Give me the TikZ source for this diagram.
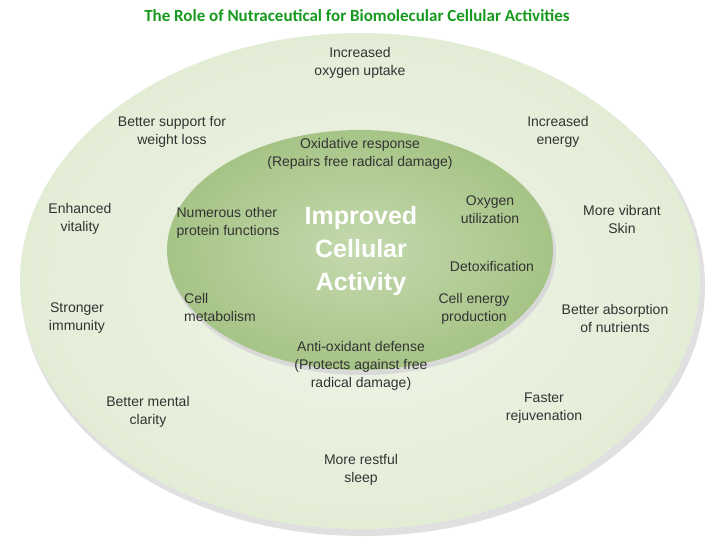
\documentclass[tikz,border=0pt]{standalone}
\usepackage{fontspec}
\setmainfont{Liberation Sans}
\newfontfamily\titlefont{Carlito}
\begin{document}
\begin{tikzpicture}[x=1pt,y=-1pt,
  lbl/.style={align=center,text=black!80,font=\fontsize{14}{18}\selectfont,inner sep=0pt},
  lbll/.style={lbl,align=left}]
\definecolor{outerg}{HTML}{E3EDD6}
\definecolor{innerg}{HTML}{A6C486}
\definecolor{innerc}{HTML}{C4D9AE}
\definecolor{titleg}{HTML}{169A1E}
\useasboundingbox (0,0) rectangle (720,540);
\fill[white] (0,0) rectangle (720,540);
\fill[black!12] (363,286) ellipse [x radius=342,y radius=250];
\shade[inner color=outerg!55!white,outer color=outerg] (360,281) ellipse [x radius=340,y radius=248] node (outer) {};
\fill[black!15] (362,254) ellipse [x radius=194,y radius=121];
\shade[inner color=innerc,outer color=innerg] (360,250) ellipse [x radius=193,y radius=120] node (inner) {};
\node[text=titleg,font=\titlefont\bfseries\fontsize{17}{18}\selectfont] (title) at (357,16) {The Role of Nutraceutical for Biomolecular Cellular Activities};
\node[white,font=\bfseries\fontsize{25}{33}\selectfont,align=center] (ica) at (361,251) {Improved\\Cellular\\Activity};
\node[lbl] (a) at (360,63) {Increased\\oxygen uptake};
\node[lbl] (b) at (172,132) {Better support for\\weight loss};
\node[lbl] (c) at (558,132) {Increased\\energy};
\node[lbl] (d) at (80,219) {Enhanced\\vitality};
\node[lbl] (e) at (622,219) {More vibrant\\Skin};
\node[lbl] (f) at (77,318) {Stronger\\immunity};
\node[lbl] (g) at (615,318) {Better absorption\\of nutrients};
\node[lbl] (h) at (148,412) {Better mental\\clarity};
\node[lbl] (i) at (544,408) {Faster\\rejuvenation};
\node[lbl] (j) at (361,470) {More restful\\sleep};
\node[lbl] (k) at (360,154) {Oxidative response\\(Repairs free radical damage)};
\node[lbll] (l) at (228,223) {Numerous other\\protein functions};
\node[lbl] (m) at (490,210) {Oxygen\\utilization};
\node[lbl] (n) at (492,266) {Detoxification};
\node[lbll] (o) at (220,307) {Cell\\metabolism};
\node[lbl] (p) at (474,309) {Cell energy\\production};
\node[lbl] (q) at (361,366) {Anti-oxidant defense\\(Protects against free\\radical damage)};
\end{tikzpicture}
\end{document}
